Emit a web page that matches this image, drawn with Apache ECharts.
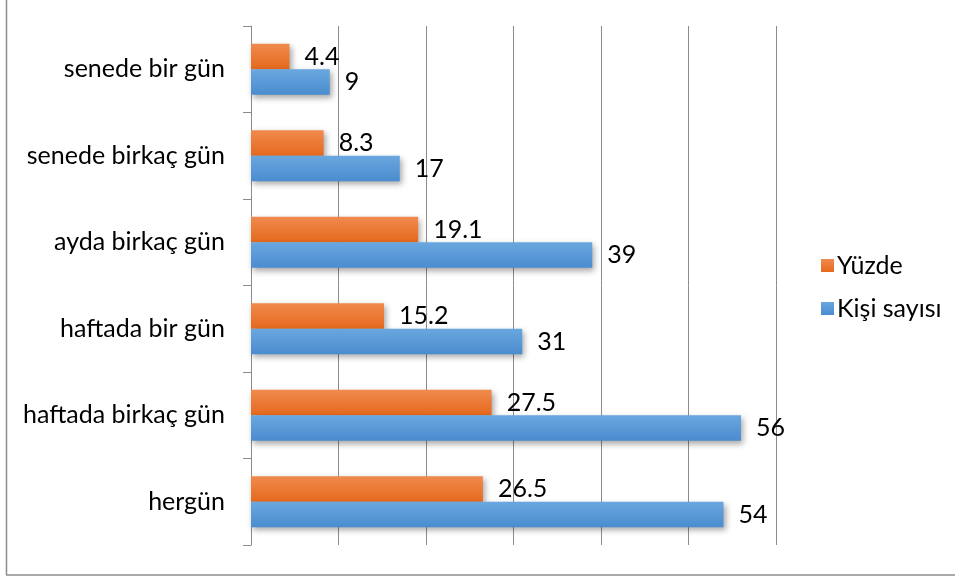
<!DOCTYPE html>
<html><head><meta charset="utf-8">
<script src="https://cdn.jsdelivr.net/npm/echarts@6/dist/echarts.min.js"></script>
<style>html,body{margin:0;padding:0;background:#fff}#c{width:955px;height:579px}</style>
</head><body><div id="c"></div>
<script>
var categories = ['hergün', 'haftada birkaç gün', 'haftada bir gün', 'ayda birkaç gün', 'senede birkaç gün', 'senede bir gün'];
var yuzde = [26.5, 27.5, 15.2, 19.1, 8.3, 4.4];
var kisi = [54, 56, 31, 39, 17, 9];
var seriesNames = ['Yüzde', 'Kişi sayısı'];

var FONT = 'Lato, "Open Sans", sans-serif';
function grad(c1, c2) {
  return new echarts.graphic.LinearGradient(0, 0, 0, 1, [{offset: 0, color: c1}, {offset: 1, color: c2}]);
}
var chart = echarts.init(document.getElementById('c'), null, {renderer: 'canvas'});
chart.setOption({
  animation: false,
  backgroundColor: '#fff',
  graphic: [
    {type: 'line', shape: {x1: 6.5, y1: 0, x2: 6.5, y2: 575}, style: {stroke: '#8c8c8c', lineWidth: 1.5}},
    {type: 'line', shape: {x1: 6, y1: 575, x2: 955, y2: 575}, style: {stroke: '#8c8c8c', lineWidth: 1.5}}
  ],
  grid: {left: 251, right: 179, top: 26, bottom: 34, containLabel: false},
  legend: {
    orient: 'vertical', left: 816, top: 248, itemGap: 18,
    itemWidth: 13, itemHeight: 13, icon: 'rect',
    data: seriesNames,
    textStyle: {fontFamily: FONT, fontSize: 25, color: '#000', padding: [0, 0, 0, -2]}
  },
  xAxis: {
    type: 'value', min: 0, max: 60, interval: 10,
    axisLabel: {show: false}, axisLine: {show: false},
    axisTick: {show: false},
    splitLine: {show: true, lineStyle: {color: '#8c8c8c', width: 1}}
  },
  yAxis: {
    type: 'category', data: categories,
    axisLine: {show: true, lineStyle: {color: '#8c8c8c', width: 1}},
    axisTick: {show: true, length: 8, lineStyle: {color: '#8c8c8c'}},
    axisLabel: {fontFamily: FONT, fontSize: 25, color: '#000', margin: 26}
  },
  series: [
    {
      name: 'Yüzde', type: 'bar', data: yuzde, barCategoryGap: '41%', barGap: '0%',
      itemStyle: {color: grad('#f08a4e', '#e6691d'), shadowColor: 'rgba(0,0,0,0.35)', shadowBlur: 6, shadowOffsetX: 2, shadowOffsetY: 3},
      label: {show: true, position: 'right', distance: 15, fontFamily: FONT, fontSize: 25, color: '#000'}
    },
    {
      name: 'Kişi sayısı', type: 'bar', data: kisi, barCategoryGap: '41%', barGap: '0%',
      itemStyle: {color: grad('#6aa7df', '#4a8ccf'), shadowColor: 'rgba(0,0,0,0.35)', shadowBlur: 6, shadowOffsetX: 2, shadowOffsetY: 3},
      label: {show: true, position: 'right', distance: 15, fontFamily: FONT, fontSize: 25, color: '#000'}
    }
  ]
});
</script></body></html>
